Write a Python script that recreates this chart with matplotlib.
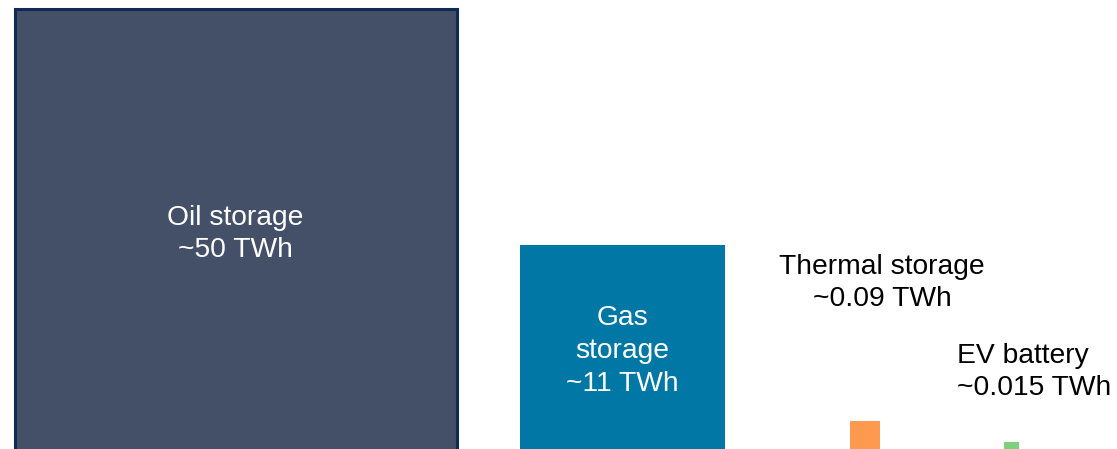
import matplotlib.pyplot as plt
from matplotlib.patches import Rectangle

plt.rcParams['font.family'] = ['Liberation Sans', 'DejaVu Sans']

# storage types, values and drawn square side (pixels as in the slide)
names = ["Oil storage", "Gas\nstorage", "Thermal storage", "EV battery"]
values = ["~50 TWh", "~11 TWh", "~0.09 TWh", "~0.015 TWh"]
square_side = [442, 205, 29.5, 15]
colors = ["#435068", "#0077a5", "#fe9a50", "#7fd07a"]

fig = plt.figure(figsize=(11.17, 4.49), dpi=100)
ax = fig.add_axes([0, 0, 1, 1])
ax.set_xlim(0, 1117)
ax.set_ylim(449, 0)
ax.axis('off')

x_left = [14.5, 520, 850, 1004]
base = [451, 450, 450, 457]
for i in range(len(names)):
    s = square_side[i]
    if i == 0:
        r = Rectangle((x_left[i], base[i] - s), s, s, facecolor=colors[i],
                      edgecolor="#112a52", linewidth=2.2)
    else:
        r = Rectangle((x_left[i], base[i] - s), s, s, facecolor=colors[i],
                      edgecolor='none')
    ax.add_patch(r)

fs = 20.3
ls = 1.3
# labels inside the big squares
ax.text(235.5, 234, names[0] + "\n" + values[0], ha='center', va='center',
        color='white', fontsize=fs, linespacing=ls)
ax.text(622.5, 351, names[1] + "\n" + values[1], ha='center', va='center',
        color='white', fontsize=fs, linespacing=1.33)
# labels outside the small squares
ax.text(882, 283, names[2] + "\n" + values[2], ha='center', va='center',
        color='black', fontsize=fs, linespacing=ls)
ax.text(957, 372, names[3] + "\n" + values[3], ha='left', va='center',
        color='black', fontsize=fs, linespacing=ls)

fig.savefig("out.png", dpi=100)
